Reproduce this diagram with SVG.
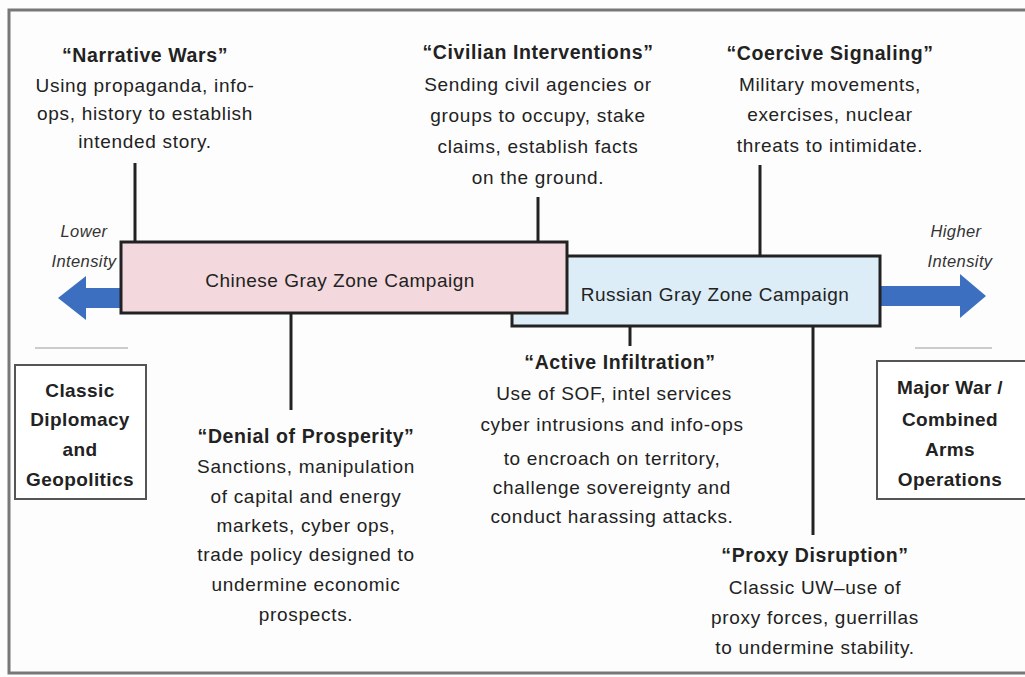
<svg xmlns="http://www.w3.org/2000/svg" width="1025" height="677" viewBox="0 0 1025 677">
<style>
text{font-family:"Liberation Sans",Arial,sans-serif;fill:#222;text-anchor:middle}
.t{font-size:19.5px;font-weight:bold;letter-spacing:0.6px}
.b{font-size:19px;letter-spacing:0.7px}
.k{font-size:19px;font-weight:bold;letter-spacing:0.4px}
.i{font-size:16.5px;font-style:italic;fill:#333;letter-spacing:0.4px}
.c{font-size:19px;letter-spacing:0.5px}
.ln{stroke:#222;stroke-width:3;fill:none}
.fa{stroke:#bbb;stroke-width:1.5}
</style>
<rect x="0" y="0" width="1025" height="677" fill="#fdfdfd"/>
<rect x="9" y="10" width="1020" height="663" fill="none" stroke="#777" stroke-width="3"/>
<g id="connectors">
<line class="ln" x1="135" y1="163" x2="135" y2="242"/>
<line class="ln" x1="538" y1="197" x2="538" y2="242"/>
<line class="ln" x1="760" y1="165" x2="760" y2="256"/>
<line class="ln" x1="291" y1="314" x2="291" y2="410"/>
<line class="ln" x1="630" y1="326" x2="630" y2="346"/>
<line class="ln" x1="813" y1="326" x2="813" y2="535"/>
<path id="arrow-left" d="M122,288 H86 V276 L58,298 L86,320 V308 H122 Z" fill="#3d6fc0"/>
<path id="arrow-right" d="M880,286 H960 V274 L986,296 L960,318 V306 H880 Z" fill="#3d6fc0"/>
<line class="fa" x1="35" y1="348" x2="128" y2="348"/>
<line class="fa" x1="915" y1="348" x2="992" y2="348"/>
</g>
<g id="russian">
<rect x="512" y="256" width="368" height="70" fill="#dcedf8" stroke="#222" stroke-width="3"/>
<text class="c" x="715" y="301">Russian Gray Zone Campaign</text>
</g>
<g id="chinese">
<rect x="121" y="242" width="446" height="71" fill="#f3d9dd" stroke="#222" stroke-width="3"/>
<text class="c" x="340" y="287">Chinese Gray Zone Campaign</text>
</g>
<g id="lower">
<text class="i" x="84" y="237">Lower</text>
<text class="i" x="84" y="267">Intensity</text>
</g>
<g id="higher">
<text class="i" x="956" y="237">Higher</text>
<text class="i" x="960" y="267">Intensity</text>
</g>
<g id="narrative">
<text class="t" x="145" y="62">“Narrative Wars”</text>
<text class="b" x="145" y="92">Using propaganda, info-</text>
<text class="b" x="145" y="120">ops, history to establish</text>
<text class="b" x="145" y="148">intended story.</text>
</g>
<g id="civilian">
<text class="t" x="538" y="59">“Civilian Interventions”</text>
<text class="b" x="538" y="91">Sending civil agencies or</text>
<text class="b" x="538" y="122">groups to occupy, stake</text>
<text class="b" x="538" y="153">claims, establish facts</text>
<text class="b" x="538" y="184">on the ground.</text>
</g>
<g id="coercive">
<text class="t" x="830" y="60">“Coercive Signaling”</text>
<text class="b" x="830" y="91">Military movements,</text>
<text class="b" x="830" y="121">exercises, nuclear</text>
<text class="b" x="830" y="152">threats to intimidate.</text>
</g>
<g id="denial">
<text class="t" x="306" y="443">“Denial of Prosperity”</text>
<text class="b" x="306" y="473">Sanctions, manipulation</text>
<text class="b" x="306" y="503">of capital and energy</text>
<text class="b" x="306" y="532">markets, cyber ops,</text>
<text class="b" x="306" y="561">trade policy designed to</text>
<text class="b" x="306" y="591">undermine economic</text>
<text class="b" x="306" y="621">prospects.</text>
</g>
<g id="active">
<text class="t" x="620" y="369">“Active Infiltration”</text>
<text class="b" x="614" y="400">Use of SOF, intel services</text>
<text class="b" x="612" y="431">cyber intrusions and info-ops</text>
<text class="b" x="612" y="465">to encroach on territory,</text>
<text class="b" x="612" y="494">challenge sovereignty and</text>
<text class="b" x="612" y="523">conduct harassing attacks.</text>
</g>
<g id="proxy">
<text class="t" x="815" y="562">“Proxy Disruption”</text>
<text class="b" x="815" y="594">Classic UW–use of</text>
<text class="b" x="815" y="624">proxy forces, guerrillas</text>
<text class="b" x="815" y="654">to undermine stability.</text>
</g>
<g id="classic">
<rect x="15" y="365" width="131" height="134" fill="#fff" stroke="#555" stroke-width="2"/>
<text class="k" x="80" y="397">Classic</text>
<text class="k" x="80" y="426">Diplomacy</text>
<text class="k" x="80" y="456">and</text>
<text class="k" x="80" y="486">Geopolitics</text>
</g>
<g id="majorwar">
<rect x="877" y="361" width="150" height="138" fill="#fff" stroke="#555" stroke-width="2"/>
<text class="k" x="950" y="394">Major War /</text>
<text class="k" x="950" y="426">Combined</text>
<text class="k" x="950" y="456">Arms</text>
<text class="k" x="950" y="486">Operations</text>
</g>
</svg>
